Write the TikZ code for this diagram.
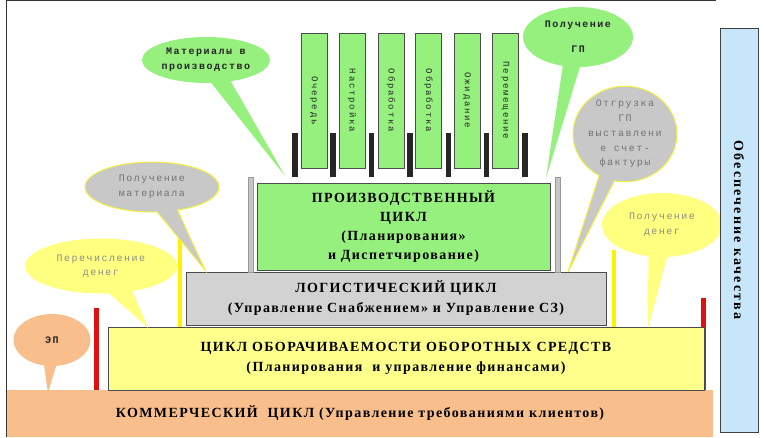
\documentclass[tikz,border=0pt]{standalone}
\usepackage{fontspec}
\setmainfont{Liberation Serif}
\newfontfamily\cyclefont[LetterSpace=10]{Liberation Serif}
\newfontfamily\qualityfont[LetterSpace=15]{Liberation Serif}
\newfontfamily\notefont[LetterSpace=15]{Liberation Mono}
\newfontfamily\stagefont[LetterSpace=20]{Liberation Mono}
\usetikzlibrary{shapes.callouts}

\definecolor{prodgreen}{HTML}{96F07E}
\definecolor{loggray}{HTML}{D2D2D2}
\definecolor{finyellow}{HTML}{FFFF8C}
\definecolor{comorange}{HTML}{F8BE8C}
\definecolor{qualblue}{HTML}{C8E6FA}
\definecolor{postred}{HTML}{E01010}
\definecolor{notegray}{HTML}{C8C8C8}
\definecolor{noteyellow}{HTML}{FFFF80}
\definecolor{noteline}{HTML}{F4F040}

\tikzset{
  cyclebox/.style={draw=black!70, line width=1pt, inner sep=0pt, align=center,
    font=\cyclefont\bfseries\fontsize{14}{20}\selectfont},
  stagebar/.style={draw=black!70, fill=prodgreen, rotate=-90, inner sep=0pt,
    minimum width=135pt, minimum height=26pt, text=black!85,
    font=\stagefont\fontsize{9}{10}\selectfont},
  notebubble/.style={ellipse callout, inner sep=0pt, align=center,
    callout pointer arc=18, font=\notefont\fontsize{10}{15}\selectfont}
}

\begin{document}
\begin{tikzpicture}[x=1pt,y=-1pt]
    \useasboundingbox (0,0) rectangle (764,437);
    \draw [black!80] (6,0) -- (6,437);
    \draw [black!80] (6,0.5) -- (716,0.5);

    \path (360,413.5) node [cyclebox,draw=none,fill=comorange,minimum width=706pt,minimum height=47pt] (commerce) {КОММЕРЧЕСКИЙ\ \ ЦИКЛ (Управление требованиями клиентов)};

    \fill [postred] ( 94,308) rectangle ( 99,390);
    \fill [postred] (701,298) rectangle (706,390);
    \path (406,358.5) node [cyclebox,fill=finyellow,minimum width=596pt,minimum height=63pt] (finance) {ЦИКЛ ОБОРАЧИВАЕМОСТИ ОБОРОТНЫХ СРЕДСТВ\\(Планирования\ \ и управление финансами)};

    \fill [yellow] (178,237) rectangle (182,327);
    \fill [yellow] (612,250) rectangle (616,327);
    \path (396,298.5) node [cyclebox,fill=loggray,minimum width=420pt,minimum height=53pt] (logistics) {ЛОГИСТИЧЕСКИЙ ЦИКЛ\\(Управление Снабжением» и Управление СЗ)};

    \filldraw [fill=gray!45,draw=gray!80] (248,177) rectangle (253,272);
    \filldraw [fill=gray!45,draw=gray!80] (555,177) rectangle (560,272);
    \path (403.5,226.5) node [cyclebox,fill=prodgreen,minimum width=293pt,minimum height=87pt,font=\cyclefont\bfseries\fontsize{14}{19}\selectfont] (production) {ПРОИЗВОДСТВЕННЫЙ\\ЦИКЛ\\(Планирования»\\и Диспетчирование)};

    \fill [black!85] (292.0,133) rectangle (297.5,177);
    \fill [black!85] (330.0,133) rectangle (335.5,177);
    \fill [black!85] (368.5,133) rectangle (374.0,177);
    \fill [black!85] (407.0,133) rectangle (412.5,177);
    \fill [black!85] (445.5,133) rectangle (451.0,177);
    \fill [black!85] (483.5,133) rectangle (489.0,177);
    \fill [black!85] (522.0,133) rectangle (527.5,177);

    \path (314.0,100.5) node [stagebar] (op1) {Очередь};
    \path (352.0,100.5) node [stagebar] (op2) {Настройка};
    \path (391.0,100.5) node [stagebar] (op3) {Обработка};
    \path (428.5,100.5) node [stagebar] (op4) {Обработка};
    \path (467.0,100.5) node [stagebar] (op5) {Ожидание};
    \path (505.5,100.5) node [stagebar] (op6) {Перемещение};

    \coordinate (mattip)  at (285,176);
    \coordinate (gptip)   at (546,178);
    \coordinate (shiptip) at (568,272);
    \coordinate (recvtip) at (205,270);
    \coordinate (paytip)  at (148,328);
    \coordinate (eptip)   at ( 48,393);
    \coordinate (cashtip) at (648,328);

    \path (206, 60) node [notebubble,fill=prodgreen,text=black!85,minimum width=128pt,minimum height=46pt,callout absolute pointer={(mattip)},font=\notefont\bfseries\fontsize{10}{15}\selectfont] (matnote) {Материалы в\\производство};
    \path (578, 37) node [notebubble,fill=prodgreen,text=black!85,minimum width=110pt,minimum height=60pt,callout absolute pointer={(gptip)},font=\notefont\bfseries\fontsize{10}{15}\selectfont] (gpnote) {Получение\\[10pt]ГП};
    \path (625,134) node [notebubble,fill=notegray,draw=noteline,line width=1pt,text=black!55,minimum width=100pt,minimum height=92pt,callout absolute pointer={(shiptip)},font=\notefont\fontsize{10}{14.7}\selectfont] (shipnote) {Отгрузка\\ГП\\выставлени\\е счет-\\фактуры};
    \path (152,187) node [notebubble,fill=notegray,draw=noteline,line width=1pt,text=black!55,minimum width=134pt,minimum height=50pt,callout absolute pointer={(recvtip)}] (recvnote) {Получение\\материала};
    \path (101,266) node [notebubble,fill=noteyellow,text=black!45,minimum width=152pt,minimum height=55pt,callout absolute pointer={(paytip)},font=\notefont\fontsize{10}{13.5}\selectfont] (paynote) {Перечисление\\денег};
    \path ( 52,340) node [notebubble,fill=comorange,text=black!85,minimum width=77pt,minimum height=52pt,callout absolute pointer={(eptip)},font=\notefont\bfseries\fontsize{10}{15}\selectfont] (epnote) {ЭП};
    \path (662,225) node [notebubble,fill=noteyellow,text=black!45,minimum width=120pt,minimum height=64pt,callout absolute pointer={(cashtip)}] (cashnote) {Получение\\денег};

    \path (739,230) node [draw=black!75,fill=qualblue,rotate=-90,inner sep=0pt,minimum width=404pt,minimum height=38pt,font=\qualityfont\bfseries\fontsize{14}{16}\selectfont] (quality) {Обеспечение качества};
\end{tikzpicture}
\end{document}
